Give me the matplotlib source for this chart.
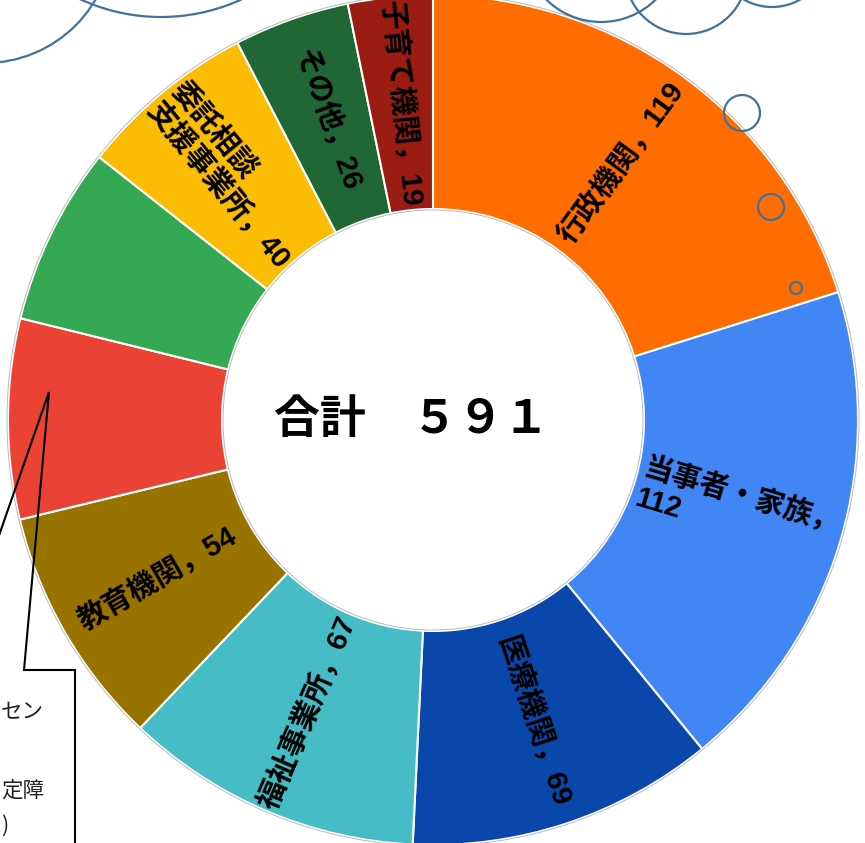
import numpy as np
import matplotlib.pyplot as plt
from matplotlib.patches import Arc, Circle

plt.rcParams['font.family'] = ['Liberation Sans', 'Noto Sans CJK JP', 'DejaVu Sans']

# data
names = ["行政機関", "当事者・家族", "医療機関", "福祉事業所", "教育機関",
         "", "", "委託相談\n支援事業所", "その他", "子育て機関"]
values = [119, 112, 69, 67, 54, 45, 40, 40, 26, 19]
colors = ["#FF6D00", "#4285F4", "#0A47AB", "#46BDC6", "#997300",
          "#EA4335", "#34A853", "#FBBC04", "#206735", "#9B1C12"]
label_breaks = {"当事者・家族": "\n"}   # value goes on its own line
total_text = "合計　５９１"
callout_lines = ["セン", "定障", ")"]

W, H = 865, 843
cx, cy = 433, H - 420      # donut centre (pixel units, y up)
R_out, R_in = 425, 211

fig = plt.figure(figsize=(W / 100, H / 100), dpi=100)
ax = fig.add_axes([0, 0, 1, 1])

ax.pie(values, colors=colors, startangle=90, counterclock=False,
       center=(cx, cy), radius=R_out,
       wedgeprops=dict(width=R_out - R_in, edgecolor="white", linewidth=1.5))
ax.add_patch(Circle((cx, cy), R_out + 1, fill=False, ec="#BBBBBB", lw=0.7))
ax.add_patch(Circle((cx, cy), R_in - 1, fill=False, ec="#BBBBBB", lw=0.7))

# radial labels
cum = np.cumsum(values)
starts = cum - np.array(values)
r_mid = (R_out + R_in) / 2
for name, v, s in zip(names, values, starts):
    if not name:
        continue
    mid = (s + v / 2) / sum(values) * 360          # clockwise from top
    ang = np.deg2rad(90 - mid)
    x, y = cx + r_mid * np.cos(ang), cy + r_mid * np.sin(ang)
    rot = (90 - mid + 180) % 360 - 180
    if rot > 90:
        rot -= 180
    elif rot < -90:
        rot += 180
    sep = label_breaks.get(name, "")
    txt = f"{name}，{sep}{v}"
    ax.text(x, y, txt, rotation=rot, rotation_mode="anchor", ha="center",
            va="center", multialignment="left", fontsize=21,
            fontweight="bold", color="black", linespacing=1.15)

# total in the hole
ax.text(412, cy, total_text, ha="center", va="center", fontsize=33,
        fontweight="bold", family=["Noto Sans CJK JP", "DejaVu Sans"])

# cloud callouts (partly off the canvas)
cloud_col = "#41719C"
arcs = [(-15, -65, 128), (161, -176, 193), (601, -56, 78), (686, -27, 61),
        (772, -50, 57)]
for ax_, ay_, r in arcs:
    ax.add_patch(Arc((ax_, H - ay_), 2 * r, 2 * r, theta1=180, theta2=360,
                     color=cloud_col, lw=1.6))
for bx, by, br in [(742, 113, 18), (771, 207, 13), (796, 288, 6)]:
    ax.add_patch(Circle((bx, H - by), br, fill=False, ec=cloud_col, lw=1.6))

# rectangular callout at the lower left
px = [-20, 49, 24, 75, 75]
py = [590, 392, 670, 670, 860]
ax.plot(px, [H - p for p in py], color="black", lw=1.5, solid_joinstyle="miter")
for t, (xx, yy) in zip(callout_lines, [(1, 712), (1, 791), (1, 826)]):
    ax.text(xx, H - yy, t, ha="left", va="center", fontsize=15.5,
            color="#222222", family=["Noto Sans CJK JP", "DejaVu Sans"])

ax.set_xlim(0, W)
ax.set_ylim(0, H)
ax.set_aspect("equal")
ax.axis("off")
fig.savefig("out.png", dpi=100)
